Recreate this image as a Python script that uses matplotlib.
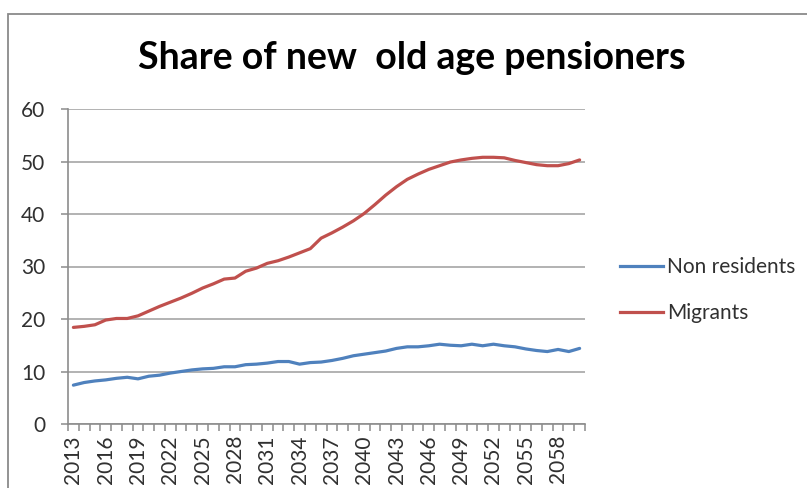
import matplotlib
matplotlib.use("Agg")
import matplotlib.pyplot as plt
from matplotlib.patches import Rectangle
from matplotlib.lines import Line2D

years = list(range(2013, 2061))
non_residents = [7.4, 7.9, 8.2, 8.4, 8.7, 8.9, 8.6, 9.1, 9.3, 9.7,
                 10.0, 10.3, 10.5, 10.6, 10.9, 10.9, 11.3, 11.4, 11.6, 11.9,
                 11.9, 11.4, 11.7, 11.8, 12.1, 12.5, 13.0, 13.3, 13.6, 13.9,
                 14.4, 14.7, 14.7, 14.9, 15.2, 15.0, 14.9, 15.2, 14.9, 15.2,
                 14.9, 14.7, 14.3, 14.0, 13.8, 14.2, 13.8, 14.4]
migrants = [18.4, 18.6, 18.9, 19.8, 20.1, 20.1, 20.6, 21.5, 22.4, 23.2,
            24.0, 24.9, 25.9, 26.7, 27.6, 27.8, 29.1, 29.7, 30.6, 31.1,
            31.8, 32.6, 33.4, 35.4, 36.4, 37.5, 38.7, 40.1, 41.8, 43.6,
            45.2, 46.6, 47.6, 48.5, 49.2, 49.9, 50.3, 50.6, 50.8, 50.8,
            50.7, 50.2, 49.8, 49.4, 49.2, 49.2, 49.6, 50.3]
series_names = ["Non residents", "Migrants"]
title = "Share of new  old age pensioners"
y_ticks = [0, 10, 20, 30, 40, 50, 60]

W, H = 807, 488
fig = plt.figure(figsize=(W / 100, H / 100), dpi=100)
fig.patch.set_facecolor("white")
font = "Lato"
txt_color = "#303030"

# outer chart border (extends beyond image at right/bottom)
border = Rectangle((8 / W, -0.2), 1.2, (H - 14) / H + 0.2, transform=fig.transFigure,
                   fill=False, edgecolor="#8a8a8a", linewidth=1.3, clip_on=False)
fig.patches.append(border)

ax = fig.add_axes([68 / W, (H - 424) / H, (585 - 68) / W, (424 - 109) / H])
x = list(range(len(years)))
blue = "#4F81BD"
red = "#C0504D"
ax.plot(x, non_residents, color=blue, linewidth=2.3, solid_capstyle="round", label=series_names[0])
ax.plot(x, migrants, color=red, linewidth=2.3, solid_capstyle="round", label=series_names[1])

ax.set_xlim(-0.5, len(years) - 0.5)
ax.set_ylim(0, 60)
ax.set_yticks(y_ticks)
ax.set_yticklabels([str(v) for v in y_ticks], fontsize=15, color=txt_color, family=font)
ax.yaxis.grid(True, color="#a6a6a6", linewidth=1.2)
ax.set_axisbelow(True)

lab_pos = x[::3]
ax.set_xticks(lab_pos)
ax.set_xticklabels([str(years[i]) for i in lab_pos], rotation=90, fontsize=15,
                   color=txt_color, family=font)
ax.set_xticks([i - 0.5 for i in range(len(years) + 1)], minor=True)
ax.tick_params(axis="x", which="major", length=0, pad=8)
ax.tick_params(axis="x", which="minor", length=5, width=1.1, color="#8c8c8c", direction="out")
ax.tick_params(axis="y", which="major", length=5, width=1.1, color="#8c8c8c", pad=11.5)

for s in ["top", "right"]:
    ax.spines[s].set_visible(False)
for s in ["left", "bottom"]:
    ax.spines[s].set_color("#8c8c8c")
    ax.spines[s].set_linewidth(1.2)

fig.text(412 / W, 1 - 58 / H, title, ha="center", va="center", fontsize=27,
         fontweight="bold", family=font, color="black")

leg = fig.legend(handles=[Line2D([], [], color=blue, lw=2.3), Line2D([], [], color=red, lw=2.3)],
                 labels=series_names, loc="center left", bbox_to_anchor=(620 / W, 1 - 290 / H),
                 frameon=False, handlelength=2.05, handletextpad=0.2, labelspacing=1.25,
                 borderpad=0, borderaxespad=0,
                 prop={"family": font, "size": 15})
for t in leg.get_texts():
    t.set_color(txt_color)

fig.savefig("out.png", dpi=100, facecolor="white")
